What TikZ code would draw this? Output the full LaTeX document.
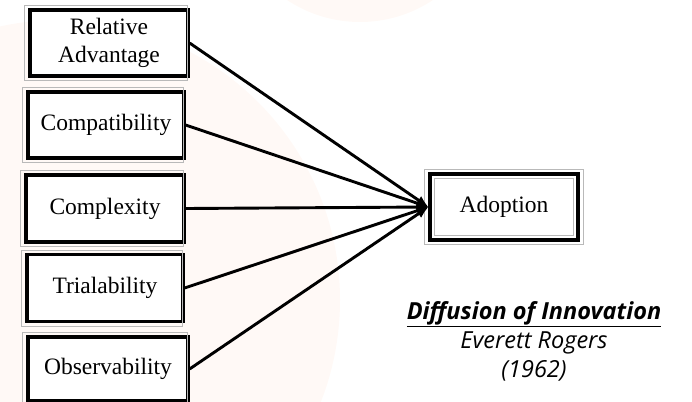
\documentclass[tikz,border=0pt]{standalone}
\usepackage{fontspec}
\setmainfont{Liberation Serif}
\newfontfamily\capfont{Open Sans}
\usetikzlibrary{arrows.meta}
\definecolor{tintpink}{RGB}{255,249,246}
\definecolor{framegray}{RGB}{185,185,185}
\tikzset{
  factor/.style={draw=black, line width=3.2pt, fill=white, minimum width=#1,
    minimum height=66pt, inner sep=0pt, align=center,
    font=\fontsize{23.5}{28}\selectfont},
  factor/.default=156pt,
  link/.style={line width=2.9pt, -{Latex[length=12pt,width=10pt]}},
  outerframe/.style={draw=framegray, line width=0.8pt},
  caption/.style={font=\capfont\fontsize{23.5}{29}\selectfont\itshape, align=center}
}
\begin{document}
\begin{tikzpicture}[x=1pt,y=-1pt]
  \useasboundingbox (0,0) rectangle (692,401);
  % soft background tint
  \fill[tintpink] (60,300) circle (280);
  \fill[tintpink] (360,-110) circle (132);

  % factor boxes
  \node[factor=158pt] (ra) at (109,43) {Relative\\Advantage};
  \node[factor=156pt] (co) at (106,125) {Compatibility};
  \node[factor=158pt, minimum height=67pt] (cx) at (105,208.5) {Complexity};
  \node[factor=156pt, minimum height=67pt] (tr) at (105,288) {Trialability};
  \node[factor=160pt, minimum height=64pt] (ob) at (108,369) {Observability};

  % outcome box
  \node[factor=148pt] (ad) at (504,207) {Adoption};
  \draw[outerframe] ([shift={(6,-6)}]ad.south west) rectangle ([shift={(-6,6)}]ad.north east);

  % thin frames around the boxes
  \foreach \b in {ra,co,cx,tr,ob}{
    \draw[outerframe] ([shift={(-4,-3)}]\b.north west) rectangle ([shift={(-2,3)}]\b.south east);
  }
  \draw[outerframe] ([shift={(-4,-3)}]ad.north west) rectangle ([shift={(4,3)}]ad.south east);

  % influences
  \foreach \b in {ra,co,cx,tr,ob}{
    \draw[link] (\b.east) -- (ad.west);
  }

  % caption
  \node[caption] (cap) at (534,341)
    {{\bfseries\underline{Diffusion of Innovation}}\\Everett Rogers\\(1962)};
\end{tikzpicture}
\end{document}
